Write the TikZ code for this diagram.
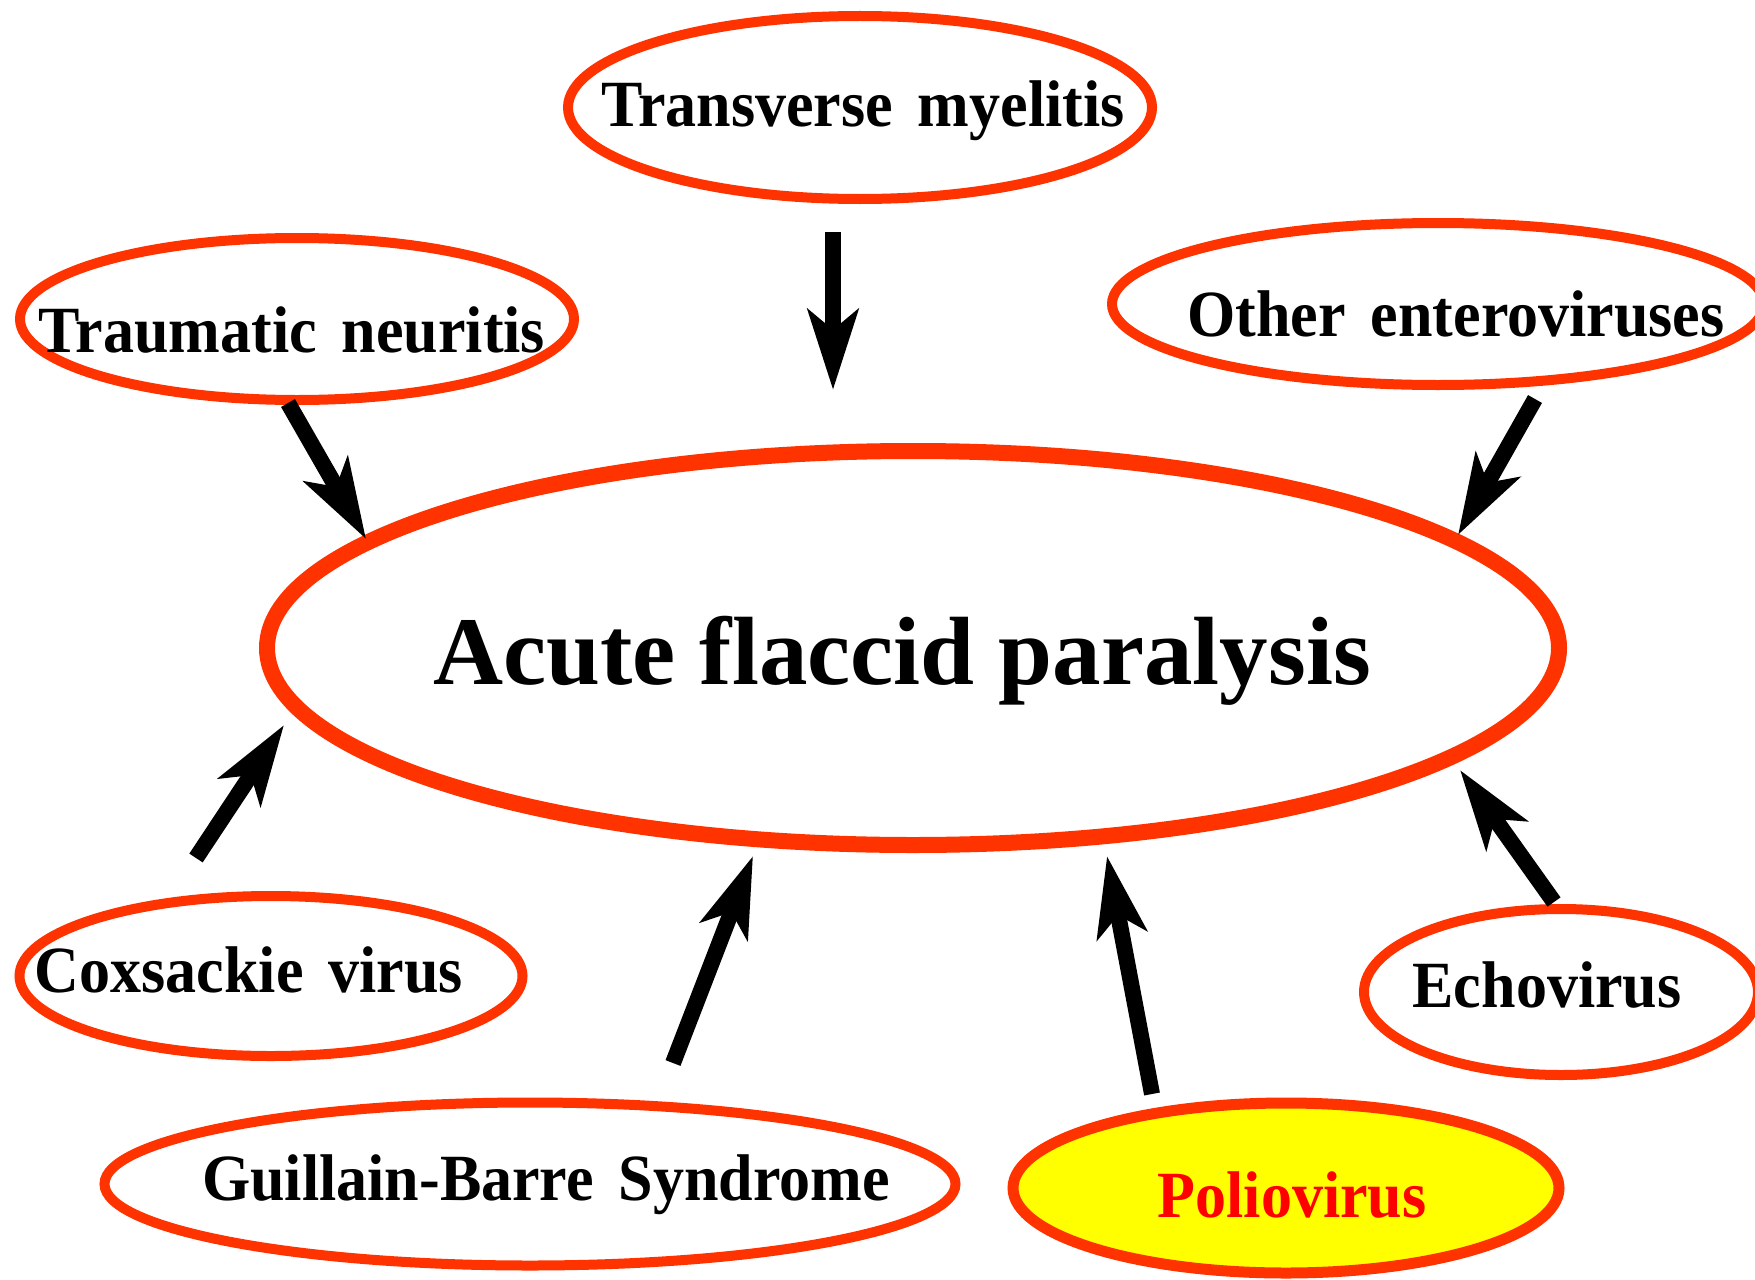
\documentclass[tikz,border=0pt]{standalone}
\usepackage{fontspec}
\setmainfont{Liberation Serif}
\newfontfamily\lblfont{Liberation Serif}[WordSpace=1.6]
\usetikzlibrary{shapes.geometric,arrows.meta}
\definecolor{ellred}{HTML}{FF3300}
\definecolor{polioyellow}{HTML}{FFFF00}
\definecolor{poliored}{HTML}{FF0000}
\newcommand\lbltext[1]{\scalebox{0.94}[1]{#1}}
\begin{document}
\begin{tikzpicture}[x=1pt,y=-1pt,
  ell/.style={draw=ellred, line width=10pt, ellipse, inner sep=0pt},
  bigell/.style={ell, line width=16pt},
  lbl/.style={anchor=base, inner sep=0pt, font=\lblfont\bfseries\fontsize{66}{70}\selectfont},
  biglbl/.style={anchor=base, inner sep=0pt, font=\bfseries\fontsize{97}{100}\selectfont},
  arr/.style={line width=16pt, -{Stealth[length=80pt,width=50pt,inset=20pt]}}
]
\useasboundingbox (0,0) rectangle (1755,1279);

% ellipses
\node[bigell, minimum width=1292pt, minimum height=394pt] (afp) at (913,648) {};
\node[ell, minimum width=584pt, minimum height=183pt] (tm) at (860,107.5) {};
\node[ell, minimum width=554pt, minimum height=162pt] (tn) at (297,319) {};
\node[ell, minimum width=652pt, minimum height=162pt] (oe) at (1438,304) {};
\node[ell, minimum width=503pt, minimum height=160pt] (cv) at (271,976) {};
\node[ell, minimum width=851pt, minimum height=163pt] (gbs) at (530,1184) {};
\node[ell, line width=11pt, fill=polioyellow, minimum width=546pt, minimum height=170pt] (pv) at (1286,1188) {};
\node[ell, minimum width=394pt, minimum height=166pt] (ev) at (1561,992) {};

% labels
\node[biglbl] (afpT) at (902,684) {Acute flaccid paralysis};
\node[lbl] (tmT) at (863,127) {\lbltext{Transverse myelitis}};
\node[lbl] (tnT) at (292,352) {\lbltext{Traumatic neuritis}};
\node[lbl] (oeT) at (1456,336) {\lbltext{Other enteroviruses}};
\node[lbl] (cvT) at (249,992) {\lbltext{Coxsackie virus}};
\node[lbl] (gbsT) at (546,1200) {\lbltext{Guillain-Barre Syndrome}};
\node[lbl, text=poliored] (pvT) at (1292,1217) {\lbltext{Poliovirus}};
\node[lbl] (evT) at (1547,1007) {\lbltext{Echovirus}};

% arrow end points
\coordinate (tmA) at (833,232);  \coordinate (tmB) at (833,390);
\coordinate (tnA) at (288,403);  \coordinate (tnB) at (366,539);
\coordinate (oeA) at (1535,399); \coordinate (oeB) at (1458,535);
\coordinate (cvA) at (196,858);  \coordinate (cvB) at (284,725);
\coordinate (gbsA) at (673,1063); \coordinate (gbsB) at (753,856);
\coordinate (pvA) at (1152,1094); \coordinate (pvB) at (1107,856);
\coordinate (evA) at (1554,902); \coordinate (evB) at (1460,770);

\draw[arr] (tmA) -- (tmB);
\draw[arr] (tnA) -- (tnB);
\draw[arr] (oeA) -- (oeB);
\draw[arr] (cvA) -- (cvB);
\draw[arr] (gbsA) -- (gbsB);
\draw[arr] (pvA) -- (pvB);
\draw[arr] (evA) -- (evB);
\end{tikzpicture}
\end{document}
